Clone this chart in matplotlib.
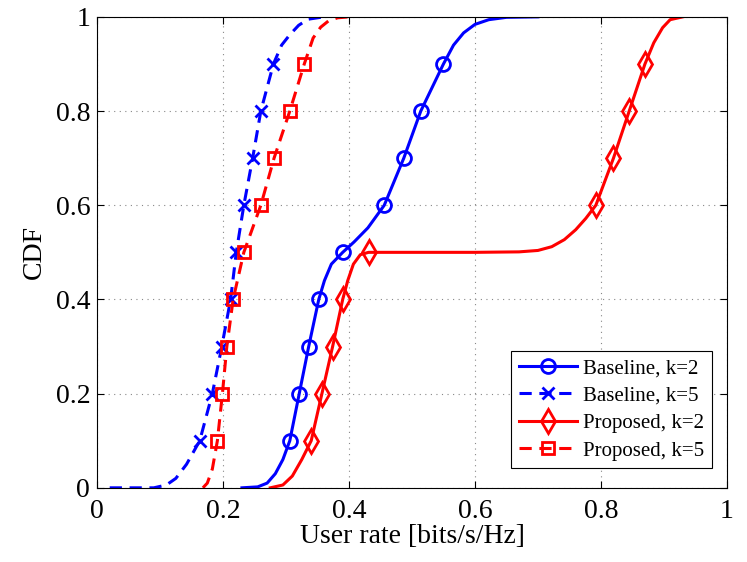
import matplotlib.pyplot as plt
import numpy as np

plt.rcParams['font.family'] = ['Liberation Serif', 'DejaVu Serif']
plt.rcParams['mathtext.fontset'] = 'stix'

# 读图得到的曲线点 (user rate, CDF)
base2_rate = [0.23, 0.255, 0.27, 0.283, 0.295, 0.306, 0.321, 0.336, 0.352, 0.361, 0.372, 0.39,
              0.408, 0.43, 0.456, 0.487, 0.514, 0.55, 0.566, 0.582, 0.6, 0.622, 0.65, 0.70]
base2_cdf = [0.0, 0.002, 0.01, 0.03, 0.06, 0.1, 0.2, 0.3, 0.4, 0.44, 0.475, 0.5,
             0.522, 0.552, 0.6, 0.7, 0.8, 0.9, 0.94, 0.966, 0.984, 0.994, 0.999, 1.0]

base5_rate = [0.02, 0.09, 0.11, 0.125, 0.142, 0.163, 0.183, 0.198, 0.212, 0.221, 0.233, 0.247,
              0.26, 0.28, 0.293, 0.306, 0.32, 0.335, 0.36]
base5_cdf = [0.0, 0.0, 0.006, 0.02, 0.05, 0.1, 0.2, 0.3, 0.4, 0.5, 0.6, 0.7,
             0.8, 0.9, 0.94, 0.962, 0.982, 0.995, 1.0]

prop2_rate = [0.275, 0.295, 0.31, 0.325, 0.34, 0.357, 0.374, 0.39, 0.398, 0.407, 0.418, 0.431,
              0.6, 0.67, 0.7, 0.722, 0.742, 0.76, 0.776, 0.792, 0.82, 0.845, 0.87, 0.884, 0.898,
              0.91, 0.93]
prop2_cdf = [0.0, 0.006, 0.025, 0.06, 0.1, 0.2, 0.3, 0.4, 0.44, 0.475, 0.495, 0.5,
             0.5, 0.501, 0.504, 0.512, 0.527, 0.548, 0.572, 0.6, 0.7, 0.8, 0.9, 0.945, 0.977,
             0.994, 1.0]

prop5_rate = [0.168, 0.175, 0.183, 0.191, 0.199, 0.206, 0.216, 0.233, 0.26, 0.281, 0.306, 0.329,
              0.343, 0.355, 0.368, 0.382, 0.40]
prop5_cdf = [0.0, 0.01, 0.04, 0.1, 0.2, 0.3, 0.4, 0.5, 0.6, 0.7, 0.8, 0.9,
             0.955, 0.978, 0.992, 0.998, 1.0]

labels = ['Baseline, k=2', 'Baseline, k=5', 'Proposed, k=2', 'Proposed, k=5']
marker_levels = [0.1, 0.2, 0.3, 0.4, 0.5, 0.6, 0.7, 0.8, 0.9]


def mark_idx(cdf):
    # 每个标记层级只取第一个点
    idx = []
    for lv in marker_levels:
        for i, c in enumerate(cdf):
            if abs(c - lv) < 1e-9:
                idx.append(i)
                break
    return idx


fig = plt.figure(figsize=(7.47, 5.62), dpi=100)
ax = fig.add_axes([0.13, 0.132, 0.843, 0.838])

series = [
    (base2_rate, base2_cdf, 'b', '-', 'o', 10),
    (base5_rate, base5_cdf, 'b', '--', 'x', 8),
    (prop2_rate, prop2_cdf, 'r', '-', 'd', 12),
    (prop5_rate, prop5_cdf, 'r', '--', 's', 9),
]
for (x, y, c, ls, m, ms), lab in zip(series, labels):
    ax.plot(x, y, color=c, linestyle=ls, linewidth=2.2, marker=m, markersize=ms,
            markerfacecolor='none', markeredgecolor=c, markeredgewidth=2,
            markevery=mark_idx(y), label=lab, dashes=(4, 2.5) if ls == '--' else (None, None))

ax.set_xlim(0, 1)
ax.set_ylim(0, 1)
ax.set_xticks([0, 0.2, 0.4, 0.6, 0.8, 1])
ax.set_yticks([0, 0.2, 0.4, 0.6, 0.8, 1])
ax.set_xticklabels(['0', '0.2', '0.4', '0.6', '0.8', '1'])
ax.set_yticklabels(['0', '0.2', '0.4', '0.6', '0.8', '1'])
ax.tick_params(direction='in', top=True, right=True, labelsize=20, length=5, width=0.8)
ax.tick_params(axis='x', pad=8)
ax.tick_params(axis='y', pad=5)
ax.grid(True, linestyle=(0, (1, 4)), color='#888888', linewidth=0.8)
for s in ax.spines.values():
    s.set_linewidth(0.8)

ax.set_xlabel('User rate [bits/s/Hz]', fontsize=20, labelpad=0)
ax.set_ylabel('CDF', fontsize=20, labelpad=6)

leg = ax.legend(loc='lower right', bbox_to_anchor=(0.976, 0.042), fontsize=15, frameon=True,
                fancybox=False, edgecolor='black', framealpha=1, handlelength=2.8,
                handletextpad=0.3, borderpad=0.35, labelspacing=0.38, borderaxespad=0,
                markerscale=1.0)
leg.get_frame().set_linewidth(0.8)

fig.savefig('out.png', dpi=100)
